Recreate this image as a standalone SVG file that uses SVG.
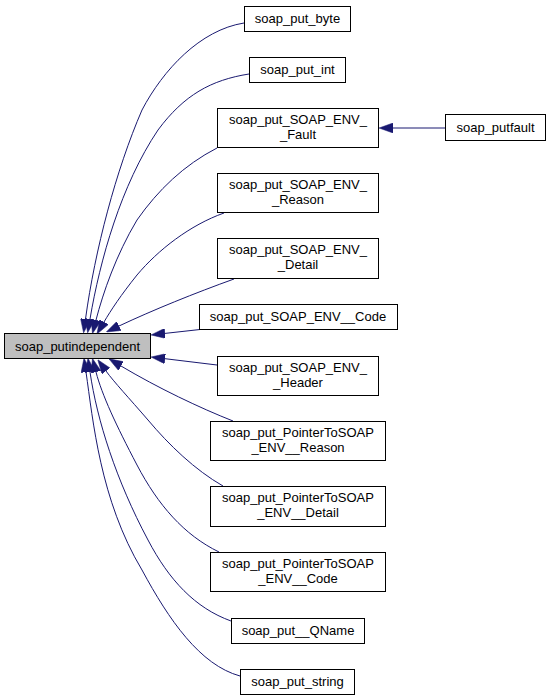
<svg xmlns="http://www.w3.org/2000/svg" width="551" height="700" viewBox="0 0 551 700">
<style>
.box{fill:#ffffff;stroke:#000000;stroke-width:1}
.root{fill:#bfbfbf;stroke:#000000;stroke-width:1}
.lbl{font-family:"Liberation Sans",Arial,sans-serif;font-size:13px;fill:#000000;text-anchor:middle}
.edge{fill:none;stroke:#191970;stroke-width:1;marker-end:url(#arr)}
</style>
<defs>
<marker id="arr" markerUnits="userSpaceOnUse" viewBox="0 0 14 10" refX="0" refY="5" markerWidth="14" markerHeight="10" orient="auto">
<path d="M0,0 L14,5 L0,10 z" fill="#191970" stroke="#191970" stroke-width="0.5"/>
</marker>
</defs>
<rect width="551" height="700" fill="#ffffff"/>
<g id="edges">
<path class="edge" d="M244,23 C200,30 163,70 142,110 C116,170 95,250 85.5,319"/>
<path class="edge" d="M249,74 C211,80 184,95 158,130 C121,185 100,260 90,319"/>
<path class="edge" d="M217,148 C184,165 158,190 137,220 C116,255 103,293 96,320"/>
<path class="edge" d="M224,213 C190,225 158,250 137,275 C121,295 111,310 104,322"/>
<path class="edge" d="M234,279 C195,293 153,310 119,326"/>
<path class="edge" d="M200,329.5 L165,333.4"/>
<path class="edge" d="M217,365 L165,358.7"/>
<path class="edge" d="M233,421 C200,408 158,388 121,366"/>
<path class="edge" d="M223,486 C195,470 169,445 148,420 C129,398 114,382 106,371"/>
<path class="edge" d="M219,552 C184,535 158,505 137,465 C116,425 102,395 96,372"/>
<path class="edge" d="M231,621 C195,608 169,580 148,540 C116,480 97,420 90,372"/>
<path class="edge" d="M240,676 C200,665 169,620 142,570 C100,500 93,420 86,372"/>
<path class="edge" d="M445,128 L393,128"/>
</g>
<g id="soap_putindependent"><rect class="root" x="4.5" y="333.5" width="146" height="25"/><text class="lbl" x="77.5" y="350.5">soap_putindependent</text></g>
<g id="soap_put_byte"><rect class="box" x="244.5" y="6.5" width="106" height="25"/><text class="lbl" x="297.5" y="23">soap_put_byte</text></g>
<g id="soap_put_int"><rect class="box" x="249.5" y="57.5" width="96" height="25"/><text class="lbl" x="297.5" y="74">soap_put_int</text></g>
<g id="soap_put_SOAP_ENV__Fault"><rect class="box" x="217.5" y="108.5" width="161" height="39"/><text class="lbl" x="298" y="124">soap_put_SOAP_ENV_</text><text class="lbl" x="298" y="138.5">_Fault</text></g>
<g id="soap_putfault"><rect class="box" x="445.5" y="114.5" width="100" height="26"/><text class="lbl" x="495.5" y="132">soap_putfault</text></g>
<g id="soap_put_SOAP_ENV__Reason"><rect class="box" x="217.5" y="173.5" width="161" height="39"/><text class="lbl" x="298" y="189">soap_put_SOAP_ENV_</text><text class="lbl" x="298" y="203.5">_Reason</text></g>
<g id="soap_put_SOAP_ENV__Detail"><rect class="box" x="217.5" y="238.5" width="161" height="40"/><text class="lbl" x="298" y="254">soap_put_SOAP_ENV_</text><text class="lbl" x="298" y="268.5">_Detail</text></g>
<g id="soap_put_SOAP_ENV__Code"><rect class="box" x="199.5" y="304.5" width="198" height="25"/><text class="lbl" x="298" y="321">soap_put_SOAP_ENV__Code</text></g>
<g id="soap_put_SOAP_ENV__Header"><rect class="box" x="217.5" y="356.5" width="161" height="39"/><text class="lbl" x="298" y="372">soap_put_SOAP_ENV_</text><text class="lbl" x="298" y="386.5">_Header</text></g>
<g id="soap_put_PointerToSOAP_ENV__Reason"><rect class="box" x="210.5" y="421.5" width="175" height="39"/><text class="lbl" x="298" y="437">soap_put_PointerToSOAP</text><text class="lbl" x="298" y="451.5">_ENV__Reason</text></g>
<g id="soap_put_PointerToSOAP_ENV__Detail"><rect class="box" x="210.5" y="486.5" width="175" height="40"/><text class="lbl" x="298" y="502">soap_put_PointerToSOAP</text><text class="lbl" x="298" y="516.5">_ENV__Detail</text></g>
<g id="soap_put_PointerToSOAP_ENV__Code"><rect class="box" x="210.5" y="552.5" width="175" height="39"/><text class="lbl" x="298" y="568">soap_put_PointerToSOAP</text><text class="lbl" x="298" y="582.5">_ENV__Code</text></g>
<g id="soap_put__QName"><rect class="box" x="231.5" y="618.5" width="133" height="25"/><text class="lbl" x="298" y="635">soap_put__QName</text></g>
<g id="soap_put_string"><rect class="box" x="240.5" y="669.5" width="114" height="25"/><text class="lbl" x="297.5" y="686">soap_put_string</text></g>
</svg>
